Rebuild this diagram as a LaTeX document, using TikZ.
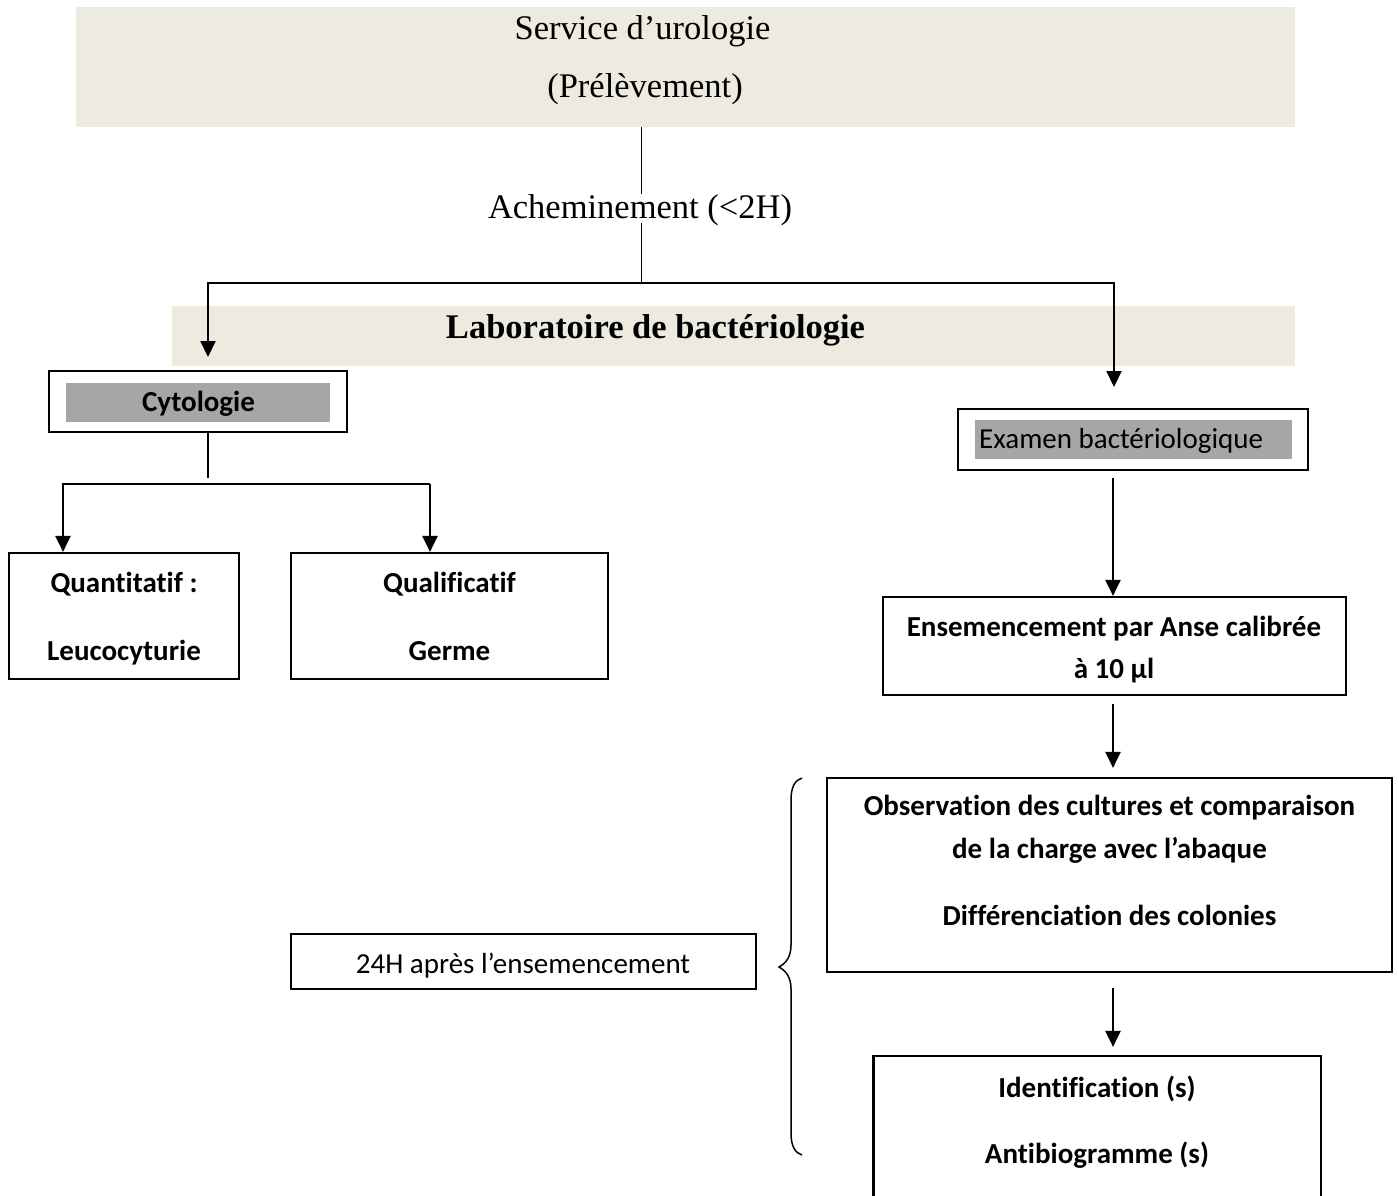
\documentclass[tikz,border=0pt]{standalone}
\usepackage{fontspec}
\setmainfont{Liberation Serif}
\newfontfamily\calfont[Ligatures=NoCommon]{Carlito}
\usetikzlibrary{arrows.meta}

\definecolor{bandbeige}{HTML}{EDEBE0}
\definecolor{labelgray}{HTML}{A6A6A6}

\begin{document}
\begin{tikzpicture}[x=1pt,y=-1pt,
  band/.style={fill=bandbeige,draw=none,inner sep=0pt},
  framebox/.style={draw=black,line width=2.2pt,fill=white,inner sep=0pt},
  graybar/.style={fill=labelgray,draw=none,inner sep=0pt},
  serif/.style={inner sep=0pt,anchor=base,font=\fontsize{34.5}{40}\selectfont},
  serifbold/.style={serif,font=\fontsize{34.5}{40}\selectfont\bfseries},
  cal/.style={inner sep=0pt,anchor=base,font=\fontsize{29}{34}\selectfont\calfont},
  calbold/.style={cal,font=\fontsize{29}{34}\selectfont\calfont\bfseries},
  thinconn/.style={line width=1.3pt},
  arr/.style={line width=2.2pt,-{Triangle[width=15pt,length=16pt]}}]

\useasboundingbox (0,0) rectangle (1398,1195);
\clip (0,0) rectangle (1398,1195);

% --- bands ---
\node[band,minimum width=1219pt,minimum height=120pt] (serv) at (685.5,67) {};
\node[serif] (servA) at (642.5,39) {Service d’urologie};
\node[serif] (servB) at (645,97) {(Prélèvement)};

\node[band,minimum width=1123pt,minimum height=60pt] (lab) at (733.5,336) {};
\node[serifbold] (labtxt) at (655.5,338) {Laboratoire de bactériologie};

% --- left branch: cytology ---
\node[framebox,minimum width=298pt,minimum height=61pt] (cyto) at (198,401.5) {};
\node[graybar,minimum width=264pt,minimum height=39pt] (cytobar) at (198,402.5) {};
\node[calbold] (cytotxt) at (198.5,411) {Cytologie};

\node[framebox,minimum width=230.5pt,minimum height=126pt] (quant) at (124,616) {};
\node[calbold] (quantA) at (124,592) {Quantitatif :};
\node[calbold] (quantB) at (124,660) {Leucocyturie};

\node[framebox,minimum width=317pt,minimum height=126pt] (qual) at (449.5,616) {};
\node[calbold] (qualA) at (449.5,592) {Qualificatif};
\node[calbold] (qualB) at (449.5,660) {Germe};

% --- right branch: bacteriology ---
\node[framebox,minimum width=350.4pt,minimum height=61pt] (exam) at (1132.8,439.5) {};
\node[graybar,minimum width=317pt,minimum height=39pt] (exambar) at (1133.5,439.5) {};
\node[cal,anchor=base west] (examtxt) at (979,448) {Examen bactériologique};

\node[framebox,minimum width=463pt,minimum height=98pt] (ens) at (1114.5,646) {};
\node[calbold] (ensA) at (1114,636) {Ensemencement par Anse calibrée};
\node[calbold] (ensB) at (1114,678) {à 10 µl};

\node[framebox,minimum width=565.4pt,minimum height=194pt] (obs) at (1109.3,875) {};
\node[calbold] (obsA) at (1109.5,815) {Observation des cultures et comparaison};
\node[calbold] (obsB) at (1109.5,858) {de la charge avec l’abaque};
\node[calbold] (obsC) at (1109.5,925) {Différenciation des colonies};

\node[framebox,minimum width=447.5pt,minimum height=159pt] (ident) at (1097.25,1135.5) {};
\node[calbold] (identA) at (1097,1097) {Identification (s)};
\node[calbold] (identB) at (1097,1163) {Antibiogramme (s)};

\node[framebox,line width=1.8pt,minimum width=465pt,minimum height=55pt] (wait) at (523.2,961.5) {};
\node[cal] (waittxt) at (523,973) {24H après l’ensemencement};

% --- connectors ---
\coordinate (split) at (641.5,283);
\coordinate (tipL) at (208,357);
\coordinate (tipR) at (1114,387);
\draw[thinconn] (serv.south -| split) -- (split);
\draw[arr] (split) -| (tipL);
\draw[arr] (split) -| (tipR);
\node[serif,fill=white,text height=24pt,text depth=5pt] (ach) at (640,218) {Acheminement (<2H)};

\coordinate (cjT) at (208,478);
\coordinate (cjL) at (63,484);
\coordinate (cjR) at (430,484);
\draw[thinconn] (cyto.south -| cjT) -- (cjT);
\draw[arr] (cjR) -- (cjL) -- (quant.north -| cjL);
\draw[arr] (cjR) -- (qual.north -| cjR);

\coordinate (col) at (1113,0);
\draw[arr,shorten <=7pt] (exam.south -| col) -- (ens.north -| col);
\draw[arr,shorten <=8pt,shorten >=9pt] (ens.south -| col) -- (obs.north -| col);
\draw[arr,shorten <=15pt,shorten >=8pt] (obs.south -| col) -- (ident.north -| col);

% --- brace grouping the 24H steps ---
\draw[line width=1.5pt]
  (802,778) .. controls (795,780) and (791,787) .. (791,800)
  -- (791,945) .. controls (791,957) and (786,963) .. (779,967)
  .. controls (786,971) and (791,977) .. (791,989)
  -- (791,1133) .. controls (791,1146) and (795,1153) .. (802,1155);
\end{tikzpicture}
\end{document}
